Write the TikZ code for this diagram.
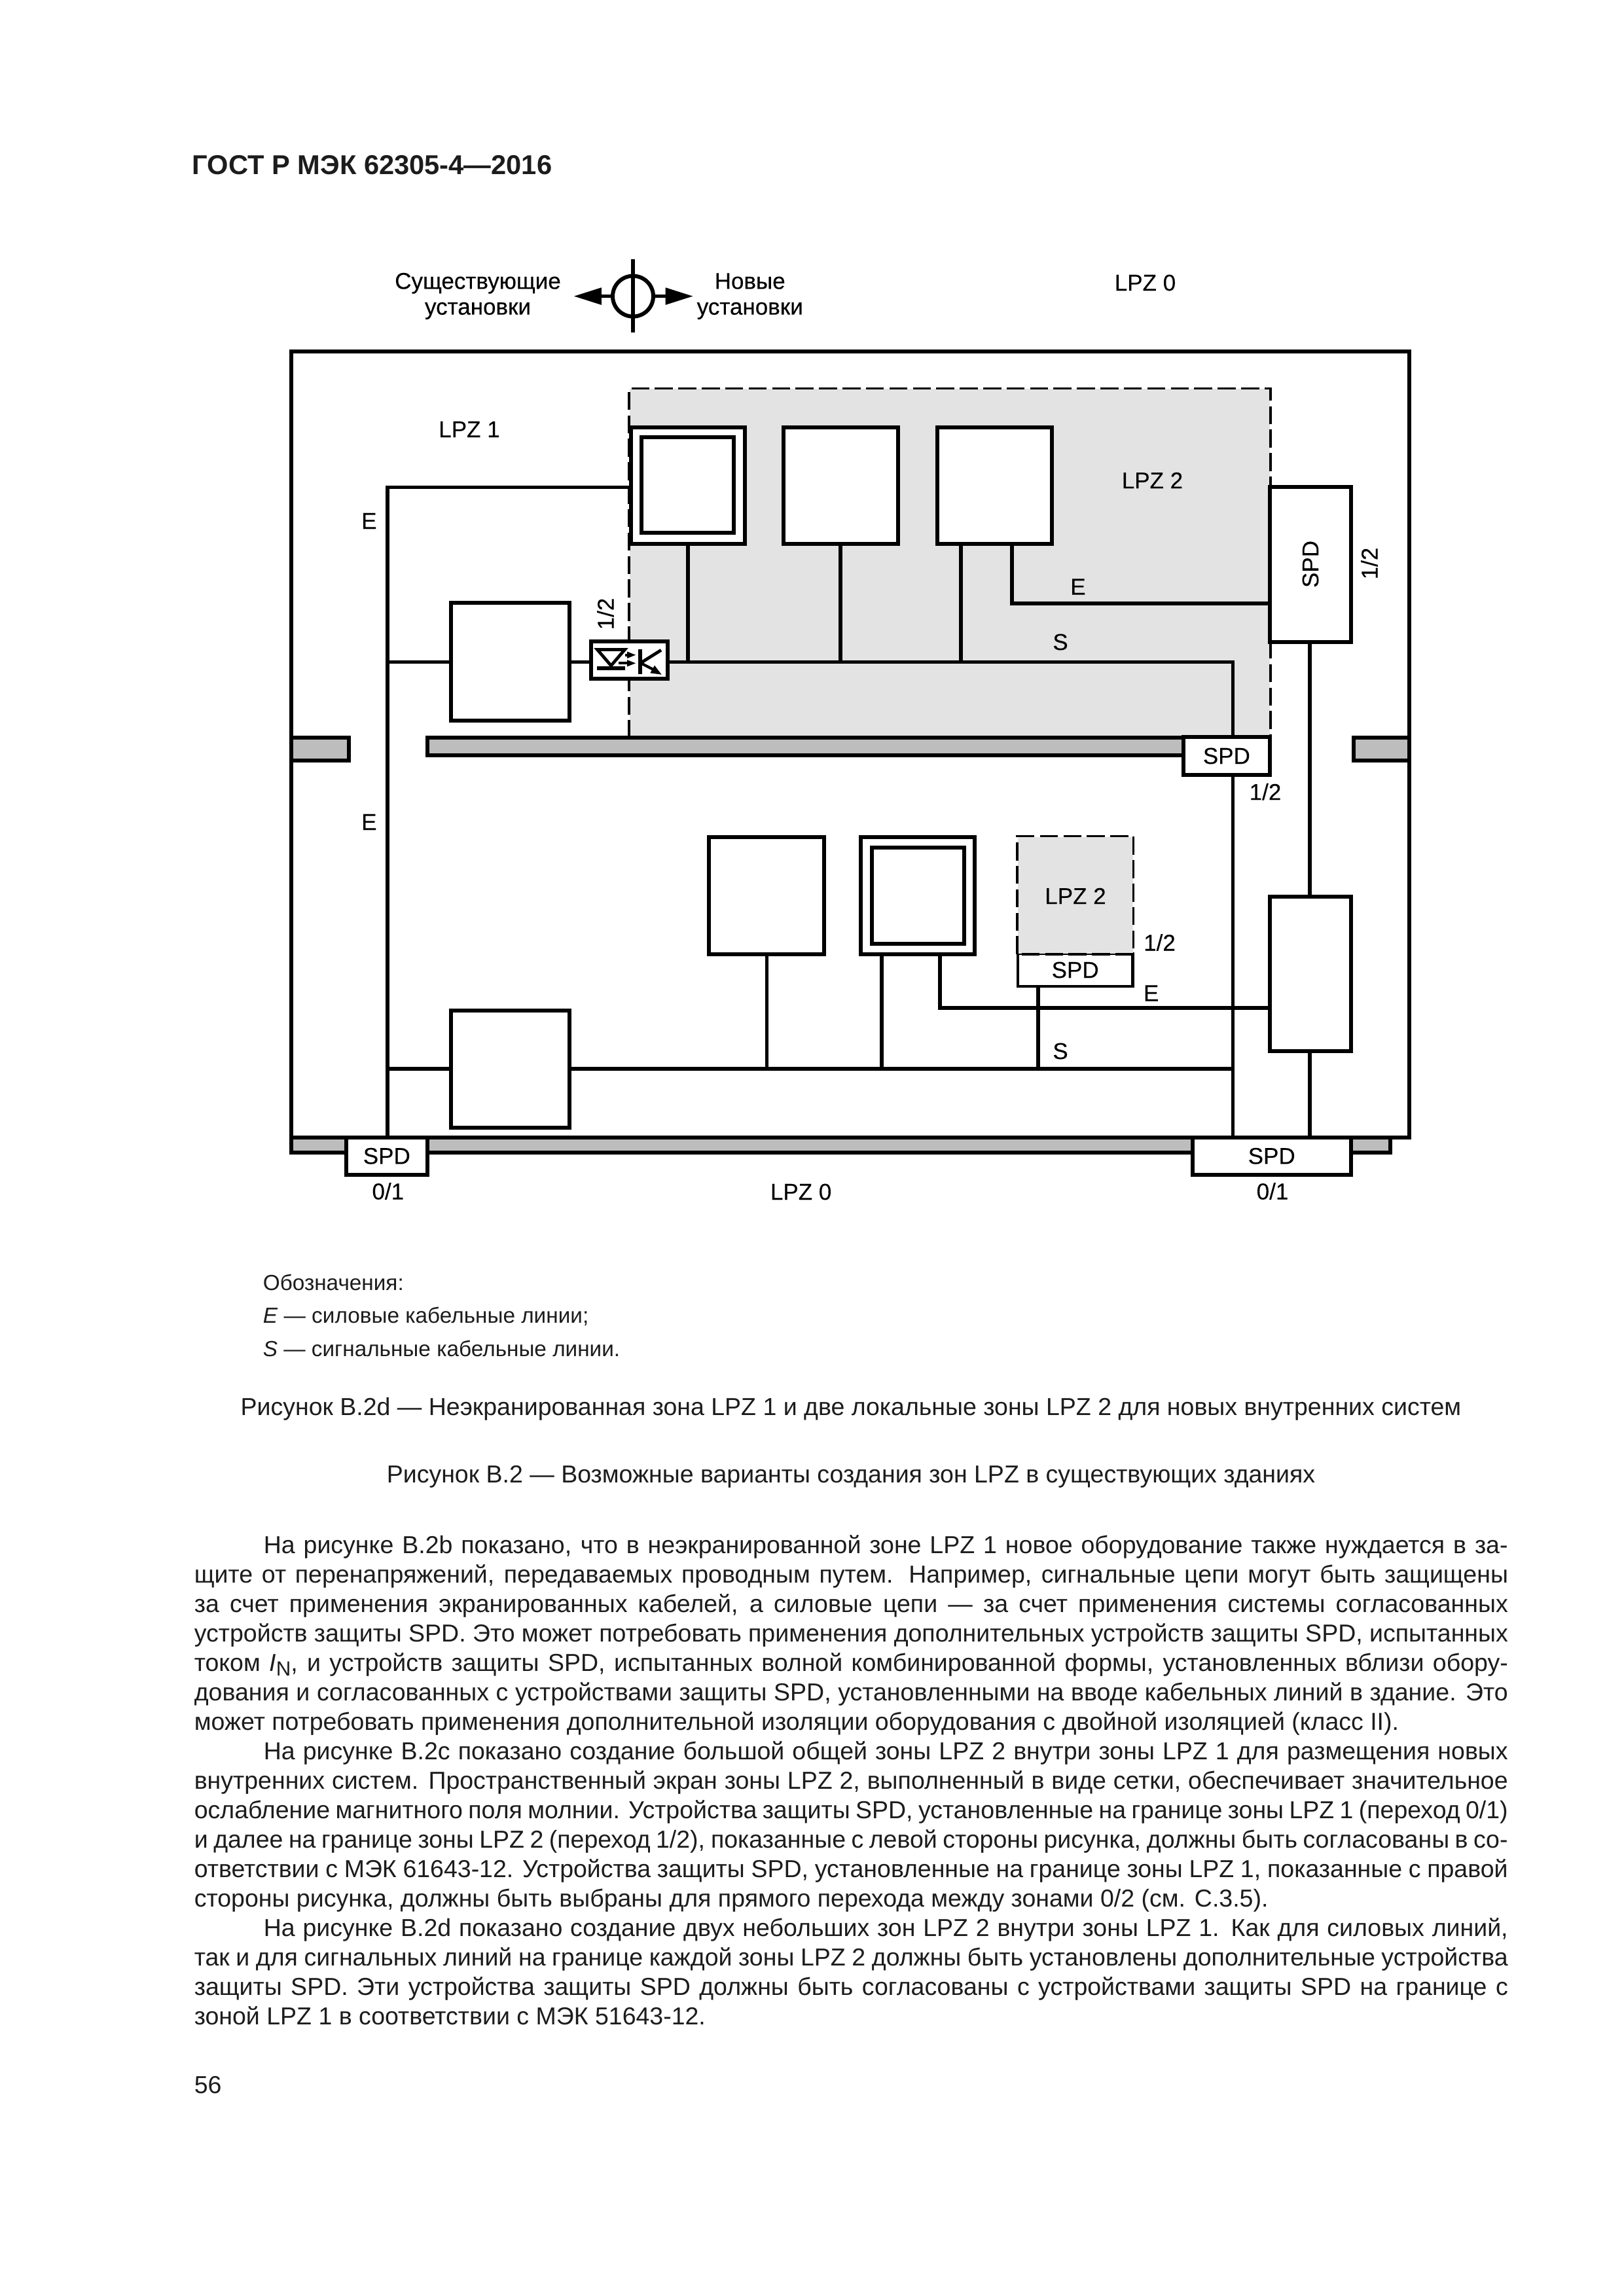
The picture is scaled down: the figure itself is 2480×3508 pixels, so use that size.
\documentclass[tikz,border=0pt]{standalone}
\usepackage{fontspec}
\setmainfont{Liberation Sans}
\newfontfamily\labfont[FakeBold=0.12]{Liberation Sans}
\newfontfamily\toplabfont[FakeBold=0.3]{Liberation Sans}
\usetikzlibrary{arrows.meta}
\definecolor{zonegray}{HTML}{E3E3E3}
\definecolor{bargray}{HTML}{BDBDBD}
\definecolor{inktext}{HTML}{1C1C1C}
\tikzset{
  frameline/.style={draw=black,line width=1.44pt},
  wire/.style={draw=black,line width=1.32pt},
  devbox/.style={draw=black,line width=1.44pt,fill=white,inner sep=0pt,font=\labfont\fontsize{8.4pt}{10pt}\selectfont},
  thinbox/.style={draw=black,line width=1pt,fill=white,inner sep=0pt,font=\labfont\fontsize{8.4pt}{10pt}\selectfont},
  barbox/.style={draw=black,line width=1.44pt,fill=bargray,inner sep=0pt},
  zonebox/.style={draw=none,fill=zonegray,inner sep=0pt},
  zonedash/.style={draw=black,line width=.85pt,dash pattern=on 6.6pt off 2pt},
  lab/.style={inner sep=0pt,font=\labfont\fontsize{8.4pt}{10pt}\selectfont},
  toplab/.style={inner sep=0pt,anchor=base,font=\toplabfont\fontsize{8.4pt}{10pt}\selectfont},
  optoline/.style={draw=black,line width=1.15pt},
  bodytext/.style={inner sep=0pt,anchor=base west,text=inktext,font=\fontsize{9pt}{10.8pt}\selectfont},
  smalltext/.style={inner sep=0pt,anchor=base west,text=inktext,font=\fontsize{8pt}{10.8pt}\selectfont},
  headtext/.style={inner sep=0pt,anchor=base west,text=inktext,font=\fontsize{10pt}{12pt}\selectfont\bfseries}
}
% name, style, x1, y1, x2, y2, text
\newcommand{\pxbox}[7]{\node[#2,minimum width={(#5-#3)*0.24pt},minimum height={(#6-#4)*0.24pt}] (#1) at ({(#3+#5)/2},{(#4+#6)/2}) {#7};}
% justified full line: name, x, y, text
\newcommand{\jline}[4]{\node[bodytext] (#1) at (#2,#3) {\makebox[{\dimexpr 2303pt*24/100-#2pt*24/100\relax}][s]{#4}};}
\newcommand{\nline}[4]{\node[bodytext] (#1) at (#2,#3) {#4};}
\begin{document}
\begin{tikzpicture}[x=0.24pt,y=-0.24pt]
\useasboundingbox (0,0) rectangle (2480,3508);
\fill[white] (0,0) rectangle (2480,3508);
% header
\node[headtext] (hdr) at (293,267) {ГОСТ Р МЭК 62305-4—2016};
% zones
\pxbox{zoneA}{zonebox}{962}{594.5}{1940}{1127}{}
\draw[zonedash] (zoneA.south west) -- (zoneA.north west) -- (zoneA.north east) -- (zoneA.south east);
% barriers
\pxbox{barL}{barbox}{445}{1127}{532.5}{1162}{}
\pxbox{barM}{barbox}{652.6}{1127}{1830}{1154}{}
\pxbox{barR}{barbox}{2068}{1127}{2153}{1162}{}
\pxbox{barB}{barbox}{445}{1737.5}{2123.6}{1761}{}
% outer frame
\node[frameline,inner sep=0pt,minimum width={(2153-445)*0.24pt},minimum height={(1737.5-537)*0.24pt}] (frame) at ({(445+2153)/2},{(537+1737.5)/2}) {};
% junction coordinates
\coordinate (eTop) at (592,744.5);
\coordinate (eBot) at (592,1737.5);
\coordinate (sBend) at (1883.6,1011.5);
\coordinate (sLow) at (1883.6,1633);
\coordinate (sBot) at (1883.6,1737.5);
\coordinate (rTop) at (2001,981);
\coordinate (rBot) at (2001,1737.5);
\coordinate (eA) at (1546,922);
\coordinate (eB) at (1436,1540);
\coordinate (e1end) at (963.6,744.5);
\coordinate (wTop) at (1051,831);
\coordinate (wTopEnd) at (1051,1011.5);
\coordinate (uA) at (1284,831);
\coordinate (uAe) at (1284,1011.5);
\coordinate (uB) at (1468,831);
\coordinate (uBe) at (1468,1011.5);
\coordinate (uC) at (1546,831);
\coordinate (lA) at (1171.5,1458);
\coordinate (lAe) at (1171.5,1633);
\coordinate (lB) at (1347,1458);
\coordinate (lBe) at (1347,1633);
\coordinate (lC) at (1436,1458);
\coordinate (lD) at (1586,1507);
\coordinate (lDe) at (1586,1633);
\coordinate (wLow) at (592,1633);
\coordinate (wMid) at (592,1011.5);
% wires
\draw[wire] (eBot) -- (eTop) -- (e1end);
\draw[wire] (wMid) -- (689,1011.5);
\draw[wire] (870,1011.5) -- (902.5,1011.5);
\draw[wire] (1020,1011.5) -- (sBend) -- (1883.6,1126);
\draw[wire] (wTop) -- (wTopEnd);
\draw[wire] (uA) -- (uAe);
\draw[wire] (uB) -- (uBe);
\draw[wire] (uC) -- (eA) -- (1940,922);
\draw[wire] (1883.6,1184) -- (sLow) -- (sBot);
\draw[wire] (rTop) -- (rBot);
\draw[wire] (wLow) -- (689,1633);
\draw[wire] (870,1633) -- (sLow);
\draw[wire] (lA) -- (lAe);
\draw[wire] (lB) -- (lBe);
\draw[wire] (lC) -- (eB) -- (1940,1540);
\draw[wire] (lD) -- (lDe);
% upper devices
\pxbox{dblA}{devbox}{963.6}{652.6}{1137.5}{831}{}
\pxbox{dblAi}{devbox}{979.5}{668.5}{1121}{814.4}{}
\pxbox{boxB}{devbox}{1197}{652.6}{1372}{831}{}
\pxbox{boxC}{devbox}{1431.7}{652.6}{1607.4}{831}{}
\pxbox{boxL}{devbox}{689}{921}{870}{1100.6}{}
\pxbox{opto}{devbox}{902.5}{979.8}{1020}{1036.8}{}
\pxbox{spdR}{devbox}{1940}{744.5}{2064}{981}{}
\pxbox{spdM}{devbox}{1807.7}{1126}{1940}{1184}{SPD}
% lower devices
\pxbox{boxD}{devbox}{689}{1543.6}{870}{1722.5}{}
\pxbox{boxE}{devbox}{1083}{1278.5}{1259}{1458}{}
\pxbox{dblB}{devbox}{1314.7}{1278.5}{1488.6}{1458}{}
\pxbox{dblBi}{devbox}{1332}{1295}{1473}{1442}{}
\pxbox{spdS}{thinbox}{1554.8}{1457}{1730.5}{1507}{SPD}
\pxbox{zoneB}{zonebox}{1554.8}{1278.5}{1730.5}{1457}{}
\draw[zonedash] (zoneB.south west) -- (zoneB.north west) -- (zoneB.north east) -- (zoneB.south east) -- cycle;
\pxbox{boxR}{devbox}{1940}{1370}{2064}{1606}{}
\pxbox{spdBL}{devbox}{529}{1737.5}{652.6}{1795}{SPD}
\pxbox{spdBR}{devbox}{1821.7}{1737.5}{2063.7}{1795}{SPD}
% opto-coupler symbol
\draw[optoline,line join=miter] (912.5,992.5) -- (954.5,992.5) -- (933.5,1017) -- cycle;
\draw[draw=black,line width=1.4pt] (912.3,1020.7) -- (955,1020.7);
\draw[draw=black,line width=1pt] (955,1000.7) -- (962,1000.7);
\fill (971,1000.7) -- (958,995.5) -- (958,1006) -- cycle;
\draw[draw=black,line width=1pt] (945,1013.3) -- (962,1013.3);
\fill (971,1013.3) -- (958,1008.2) -- (958,1018.5) -- cycle;
\draw[draw=black,line width=1.35pt] (977.7,991.7) -- (977.7,1030);
\draw[optoline] (980.7,1011.7) -- (1010,993.3);
\draw[draw=black,line width=1pt] (980.7,1014) -- (1000,1024);
\fill (1010.7,1030.7) -- (1000,1016.7) -- (993.3,1028.3) -- cycle;
% top symbol
\node[circle,draw=black,line width=1.44pt,inner sep=0pt,minimum size={62*0.24pt}] (sym) at (967,452.6) {};
\coordinate (symT) at (967,396.5);
\coordinate (symB) at (967,508);
\coordinate (arrL) at (876.4,452.6);
\coordinate (arrR) at (1059,452.6);
\draw[draw=black,line width=1.5pt] (symT) -- (symB);
\draw[wire,-{Triangle[length=10.2pt,width=6pt]}] (sym.west) -- (arrL);
\draw[wire,-{Triangle[length=10.2pt,width=6pt]}] (sym.east) -- (arrR);
% diagram labels
\node[toplab] (tA) at (730,441.4) {Существующие};
\node[toplab] (tB) at (730,480.7) {установки};
\node[toplab] (tC) at (1145.7,441.4) {Новые};
\node[toplab] (tD) at (1145.7,480.7) {установки};
\node[lab] (tLz0) at (1749.5,432) {LPZ 0};
\node[lab] (tLz1) at (717,656) {LPZ 1};
\node[lab] (tLz2) at (1760.5,734) {LPZ 2};
\node[lab] (tLz2b) at (1643,1369) {LPZ 2};
\node[lab] (tLz0b) at (1223.6,1821) {LPZ 0};
\node[lab] (tE1) at (564,796) {E};
\node[lab] (tE2) at (564,1256) {E};
\node[lab] (tE3) at (1647,896.5) {E};
\node[lab] (tE4) at (1758.7,1517.5) {E};
\node[lab] (tS1) at (1620,981) {S};
\node[lab] (tS2) at (1620,1606) {S};
\node[lab,rotate=90] (tH1) at (925,938) {1/2};
\node[lab,rotate=90] (tH2) at (2092,861) {1/2};
\node[lab,rotate=90] (tSpdR) at (2002,862) {SPD};
\node[lab] (tH3) at (1933,1209.7) {1/2};
\node[lab] (tH4) at (1771.5,1440) {1/2};
\node[lab] (t01a) at (592.8,1820) {0/1};
\node[lab] (t01b) at (1944,1820) {0/1};
% legend and captions
\node[smalltext] (leg0) at (401,1971.7) {Обозначения:};
\node[smalltext] (leg1) at (401,2021.7) {\textit{E} — силовые кабельные линии;};
\node[smalltext] (leg2) at (401,2072) {\textit{S} — сигнальные кабельные линии.};
\node[bodytext,anchor=base] (cap1) at (1300,2162) {Рисунок В.2d — Неэкранированная зона LPZ 1 и две локальные зоны LPZ 2 для новых внутренних систем};
\node[bodytext,anchor=base] (cap2) at (1300,2265.7) {Рисунок В.2 — Возможные варианты создания зон LPZ в существующих зданиях};
% body text
\jline{b1}{402}{2373}{На рисунке В.2b показано, что в неэкранированной зоне LPZ 1 новое оборудование также нуждается в за-}
\jline{b2}{296}{2418}{щите от перенапряжений, передаваемых проводным путем. Например, сигнальные цепи могут быть защищены}
\jline{b3}{296}{2463}{за счет применения экранированных кабелей, а силовые цепи — за счет применения системы согласованных}
\jline{b4}{296}{2508}{устройств защиты SPD. Это может потребовать применения дополнительных устройств защиты SPD, испытанных}
\jline{b5}{296}{2553}{током \textit{I}\raisebox{-1.8pt}{\fontsize{7.5pt}{8pt}\selectfont N}, и устройств защиты SPD, испытанных волной комбинированной формы, установленных вблизи обору-}
\jline{b6}{296}{2598}{дования и согласованных с устройствами защиты SPD, установленными на вводе кабельных линий в здание. Это}
\nline{b7}{296}{2643}{может потребовать применения дополнительной изоляции оборудования с двойной изоляцией (класс II).}
\jline{b8}{402}{2688}{На рисунке В.2с показано создание большой общей зоны LPZ 2 внутри зоны LPZ 1 для размещения новых}
\jline{b9}{296}{2733}{внутренних систем. Пространственный экран зоны LPZ 2, выполненный в виде сетки, обеспечивает значительное}
\jline{b10}{296}{2778}{ослабление магнитного поля молнии. Устройства защиты SPD, установленные на границе зоны LPZ 1 (переход 0/1)}
\jline{b11}{296}{2823}{и далее на границе зоны LPZ 2 (переход 1/2), показанные с левой стороны рисунка, должны быть согласованы в со-}
\jline{b12}{296}{2868}{ответствии с МЭК 61643-12. Устройства защиты SPD, установленные на границе зоны LPZ 1, показанные с правой}
\nline{b13}{296}{2913}{стороны рисунка, должны быть выбраны для прямого перехода между зонами 0/2 (см. С.3.5).}
\jline{b14}{402}{2958}{На рисунке В.2d показано создание двух небольших зон LPZ 2 внутри зоны LPZ 1. Как для силовых линий,}
\jline{b15}{296}{3003}{так и для сигнальных линий на границе каждой зоны LPZ 2 должны быть установлены дополнительные устройства}
\jline{b16}{296}{3048}{защиты SPD. Эти устройства защиты SPD должны быть согласованы с устройствами защиты SPD на границе с}
\nline{b17}{296}{3093}{зоной LPZ 1 в соответствии с МЭК 51643-12.}
\nline{pg}{296}{3198}{56}
\end{tikzpicture}
\end{document}
